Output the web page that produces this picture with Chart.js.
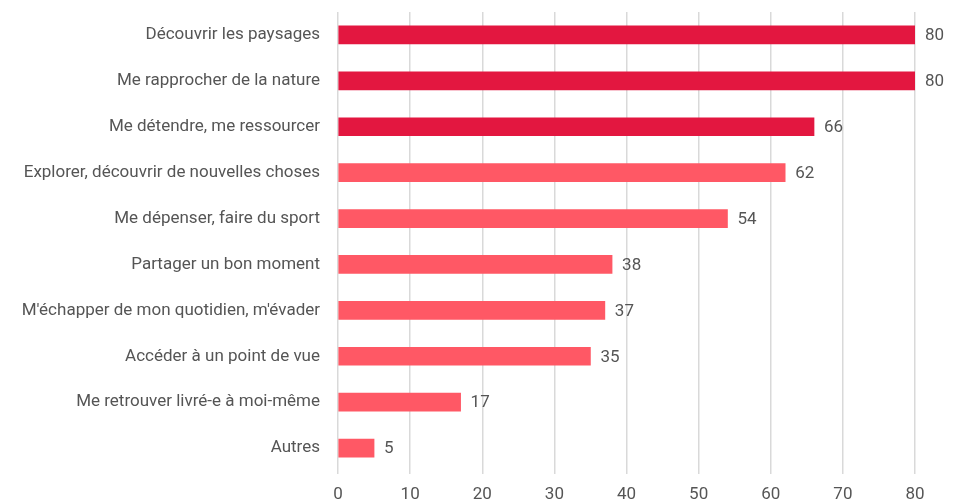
<!DOCTYPE html>
<html>
<head>
<meta charset="utf-8">
<script src="https://cdn.jsdelivr.net/npm/chart.js@4"></script>
<style>
  html, body { margin: 0; padding: 0; background: #fff; }
  #wrap { width: 964px; height: 502px; }
</style>
</head>
<body>
<div id="wrap"><canvas id="chart"></canvas></div>
<script>
// données
const categories = [
    'Découvrir les paysages',
    'Me rapprocher de la nature',
    'Me détendre, me ressourcer',
    'Explorer, découvrir de nouvelles choses',
    'Me dépenser, faire du sport',
    'Partager un bon moment',
    "M'échapper de mon quotidien, m'évader",
    'Accéder à un point de vue',
    'Me retrouver livré-e à moi-même',
    'Autres'
];
const values = [80, 80, 66, 62, 54, 38, 37, 35, 17, 5];
const topCount = 3; // les 3 premières barres en rouge foncé
const xTicks = [0, 10, 20, 30, 40, 50, 60, 70, 80];

const FONT = "Roboto, sans-serif";
const darkRed = '#e31740';
const lightRed = '#ff5865';

// plugin simple pour écrire la valeur au bout de chaque barre
const valueLabels = {
    id: 'valueLabels',
    afterDatasetsDraw(chart) {
        const ctx = chart.ctx;
        const meta = chart.getDatasetMeta(0);
        ctx.save();
        ctx.font = '17px ' + FONT;
        ctx.fillStyle = '#555';
        ctx.textBaseline = 'middle';
        ctx.textAlign = 'left';
        meta.data.forEach((bar, i) => {
            ctx.fillText(values[i], bar.x + 10, bar.y + 1);
        });
        ctx.restore();
    }
};

const ctx = document.getElementById('chart').getContext('2d');
new Chart(ctx, {
    type: 'bar',
    data: {
        labels: categories,
        datasets: [{
            data: values,
            backgroundColor: values.map((v, i) => i < topCount ? darkRed : lightRed),
            barThickness: 18,
            borderWidth: 0
        }]
    },
    options: {
        indexAxis: 'y',
        responsive: true,
        maintainAspectRatio: false,
        animation: false,
        layout: { padding: { top: 12, right: 49, bottom: 0, left: 0 } },
        plugins: {
            legend: { display: false },
            tooltip: { enabled: false }
        },
        scales: {
            x: {
                min: 0,
                max: 80,
                afterBuildTicks: scale => { scale.ticks = xTicks.map(v => ({ value: v })); },
                afterFit: scale => { scale.height = 31; },
                grid: { color: '#d9d9d9', lineWidth: 1.5, drawTicks: true, tickLength: 3 },
                border: { display: false },
                ticks: { color: '#555', font: { family: FONT, size: 17 }, padding: 11 }
            },
            y: {
                afterFit: scale => {
                    scale.width = 338;
                    scale.paddingTop = 0;
                    scale.paddingBottom = 0;
                },
                grid: { display: false },
                border: { display: false },
                ticks: { color: '#555', font: { family: FONT, size: 17 }, padding: 10 }
            }
        }
    },
    plugins: [valueLabels]
});
</script>
</body>
</html>
